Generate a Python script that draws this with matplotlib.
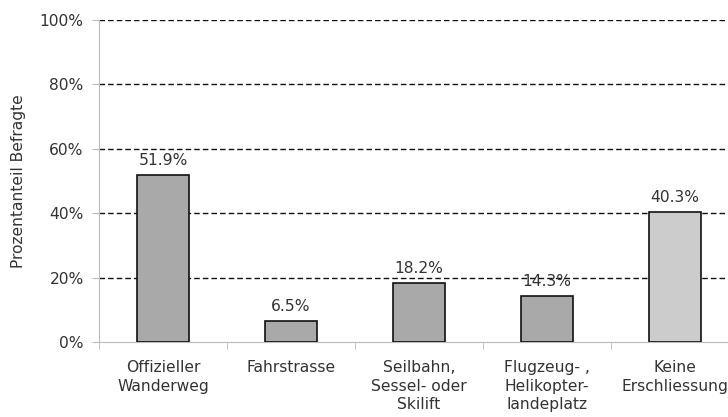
import numpy as np
import matplotlib.pyplot as plt
from matplotlib.ticker import FuncFormatter

categories = ['Offizieller\nWanderweg', 'Fahrstrasse', 'Seilbahn,\nSessel- oder\nSkilift',
              'Flugzeug- ,\nHelikopter-\nlandeplatz', 'Keine\nErschliessung']
values = [51.9, 6.5, 18.2, 14.3, 40.3]
bar_colors = ['#a9a9a9', '#a9a9a9', '#a9a9a9', '#a9a9a9', '#cccccc']

plt.rcParams['font.family'] = 'DejaVu Sans'
plt.rcParams['font.size'] = 11.2

fig = plt.figure(figsize=(7.28, 4.17), dpi=100)
# axes run past the right edge, as in the original crop
ax = fig.add_axes([99/728, 75/417, 640/728, 322/417])

x = np.arange(len(values))
ax.bar(x, values, width=0.4, color=bar_colors, edgecolor='#111111', linewidth=1.2, zorder=3)
for xi, v in zip(x, values):
    ax.text(xi, v + 2.2, f'{v:.1f}%', ha='center', va='bottom', color='#333333', zorder=4)

ax.set_xlim(-0.5, len(values) - 0.5)
ax.set_ylim(0, 100)
ax.set_yticks(np.arange(0, 101, 20))
ax.yaxis.set_major_formatter(FuncFormatter(lambda y, _: f'{y:.0f}%'))
ax.grid(axis='y', linestyle=(0, (4, 2.2)), color='#111111', linewidth=1.0, zorder=1)
ax.get_ygridlines()[0].set_visible(False)

ax.set_xticks(x)
ax.set_xticklabels(categories, linespacing=1.3, color='#333333')
ax.set_xticks(np.arange(-0.5, len(values), 1), minor=True)
ax.tick_params(axis='x', which='major', length=0, pad=13)
ax.tick_params(axis='x', which='minor', length=5, color='#bbbbbb')
ax.tick_params(axis='y', length=5, color='#bbbbbb', labelcolor='#333333', pad=6)

ax.set_ylabel('Prozentanteil Befragte', color='#333333', labelpad=10)

for s in ['top', 'right']:
    ax.spines[s].set_visible(False)
for s in ['left', 'bottom']:
    ax.spines[s].set_color('#bbbbbb')

plt.savefig('out.png', dpi=100)
